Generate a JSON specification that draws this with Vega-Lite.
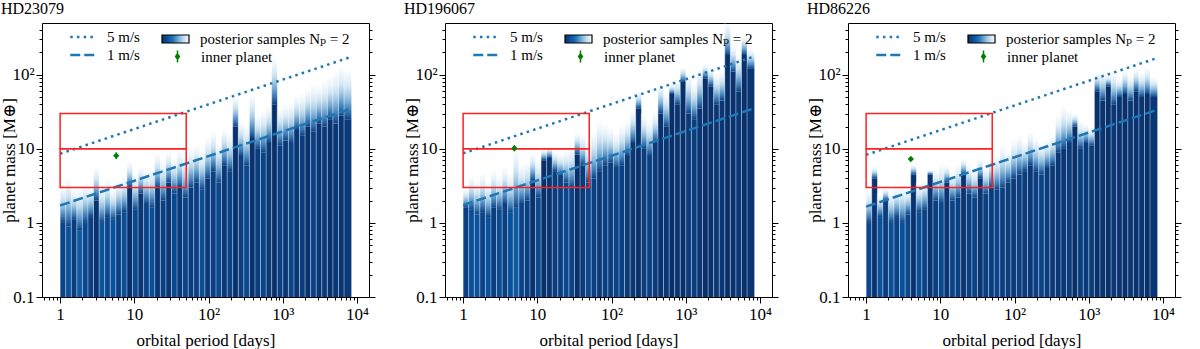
{
"$schema":"https://vega.github.io/schema/vega-lite/v6.json",
"background":"white",
"padding":{"left":0,"top":0,"right":0,"bottom":0},
"datasets":{
"bars":[
{"star":"HD23079","p0":1,"p1":1.189,"ms":1.0,"mt":3.5,"c":0.12},
{"star":"HD23079","p0":1.189,"p1":1.413,"ms":0.9,"mt":4.5,"c":0.2},
{"star":"HD23079","p0":1.413,"p1":1.679,"ms":1.1,"mt":3.0,"c":0.08},
{"star":"HD23079","p0":1.679,"p1":1.995,"ms":0.8,"mt":3.2,"c":0.25},
{"star":"HD23079","p0":1.995,"p1":2.371,"ms":1.0,"mt":3.8,"c":0.15},
{"star":"HD23079","p0":2.371,"p1":2.818,"ms":1.2,"mt":3.4,"c":0.1},
{"star":"HD23079","p0":2.818,"p1":3.35,"ms":2.0,"mt":6.0,"c":0.02},
{"star":"HD23079","p0":3.35,"p1":3.981,"ms":1.0,"mt":3.5,"c":0.22},
{"star":"HD23079","p0":3.981,"p1":4.732,"ms":1.2,"mt":4.2,"c":0.14},
{"star":"HD23079","p0":4.732,"p1":5.623,"ms":1.1,"mt":3.0,"c":0.2},
{"star":"HD23079","p0":5.623,"p1":6.683,"ms":1.3,"mt":4.0,"c":0.1},
{"star":"HD23079","p0":6.683,"p1":7.943,"ms":1.4,"mt":4.5,"c":0.18},
{"star":"HD23079","p0":7.943,"p1":9.441,"ms":3.0,"mt":7.0,"c":0.0},
{"star":"HD23079","p0":9.441,"p1":11.22,"ms":1.5,"mt":5.0,"c":0.15},
{"star":"HD23079","p0":11.22,"p1":13.34,"ms":2.5,"mt":6.0,"c":0.05},
{"star":"HD23079","p0":13.34,"p1":15.85,"ms":1.8,"mt":5.5,"c":0.12},
{"star":"HD23079","p0":15.85,"p1":18.84,"ms":1.6,"mt":6.0,"c":0.2},
{"star":"HD23079","p0":18.84,"p1":22.39,"ms":3.0,"mt":9.0,"c":0.03},
{"star":"HD23079","p0":22.39,"p1":26.61,"ms":2.0,"mt":7.5,"c":0.1},
{"star":"HD23079","p0":26.61,"p1":31.62,"ms":3.5,"mt":9.5,"c":0.04},
{"star":"HD23079","p0":31.62,"p1":37.58,"ms":2.5,"mt":8.0,"c":0.15},
{"star":"HD23079","p0":37.58,"p1":44.67,"ms":3.0,"mt":10,"c":0.06},
{"star":"HD23079","p0":44.67,"p1":53.09,"ms":2.2,"mt":8.5,"c":0.12},
{"star":"HD23079","p0":53.09,"p1":63.1,"ms":3.0,"mt":11,"c":0.08},
{"star":"HD23079","p0":63.1,"p1":74.99,"ms":3.5,"mt":12,"c":0.1},
{"star":"HD23079","p0":74.99,"p1":89.13,"ms":2.8,"mt":10,"c":0.18},
{"star":"HD23079","p0":89.13,"p1":105.9,"ms":4.0,"mt":15,"c":0.06},
{"star":"HD23079","p0":105.9,"p1":125.9,"ms":5.0,"mt":18,"c":0.1},
{"star":"HD23079","p0":125.9,"p1":149.6,"ms":3.5,"mt":13,"c":0.14},
{"star":"HD23079","p0":149.6,"p1":177.8,"ms":6.0,"mt":20,"c":0.05},
{"star":"HD23079","p0":177.8,"p1":211.3,"ms":5.0,"mt":17,"c":0.12},
{"star":"HD23079","p0":211.3,"p1":251.2,"ms":20,"mt":55,"c":0.0},
{"star":"HD23079","p0":251.2,"p1":298.5,"ms":8.0,"mt":25,"c":0.1},
{"star":"HD23079","p0":298.5,"p1":354.8,"ms":6.0,"mt":22,"c":0.14},
{"star":"HD23079","p0":354.8,"p1":421.7,"ms":14,"mt":60,"c":0.02},
{"star":"HD23079","p0":421.7,"p1":501.2,"ms":10,"mt":30,"c":0.08},
{"star":"HD23079","p0":501.2,"p1":595.7,"ms":9,"mt":35,"c":0.12},
{"star":"HD23079","p0":595.7,"p1":707.9,"ms":12,"mt":40,"c":0.06},
{"star":"HD23079","p0":707.9,"p1":841.4,"ms":40,"mt":185,"c":0.0},
{"star":"HD23079","p0":841.4,"p1":1000,"ms":11,"mt":38,"c":0.1},
{"star":"HD23079","p0":1000,"p1":1189,"ms":13,"mt":42,"c":0.05},
{"star":"HD23079","p0":1189,"p1":1413,"ms":12,"mt":45,"c":0.12},
{"star":"HD23079","p0":1413,"p1":1679,"ms":18,"mt":55,"c":0.04},
{"star":"HD23079","p0":1679,"p1":1995,"ms":15,"mt":60,"c":0.08},
{"star":"HD23079","p0":1995,"p1":2371,"ms":20,"mt":70,"c":0.02},
{"star":"HD23079","p0":2371,"p1":2818,"ms":17,"mt":80,"c":0.1},
{"star":"HD23079","p0":2818,"p1":3350,"ms":22,"mt":75,"c":0.04},
{"star":"HD23079","p0":3350,"p1":3981,"ms":20,"mt":90,"c":0.06},
{"star":"HD23079","p0":3981,"p1":4732,"ms":25,"mt":100,"c":0.02},
{"star":"HD23079","p0":4732,"p1":5623,"ms":22,"mt":120,"c":0.05},
{"star":"HD23079","p0":5623,"p1":6683,"ms":28,"mt":140,"c":0.03},
{"star":"HD23079","p0":6683,"p1":8400,"ms":25,"mt":130,"c":0.06},
{"star":"HD196067","p0":1,"p1":1.189,"ms":1.6,"mt":3.0,"c":0.1},
{"star":"HD196067","p0":1.189,"p1":1.413,"ms":1.5,"mt":4.5,"c":0.18},
{"star":"HD196067","p0":1.413,"p1":1.679,"ms":1.3,"mt":4.0,"c":0.22},
{"star":"HD196067","p0":1.679,"p1":1.995,"ms":1.4,"mt":5.0,"c":0.12},
{"star":"HD196067","p0":1.995,"p1":2.371,"ms":1.2,"mt":3.8,"c":0.2},
{"star":"HD196067","p0":2.371,"p1":2.818,"ms":1.6,"mt":5.5,"c":0.08},
{"star":"HD196067","p0":2.818,"p1":3.35,"ms":1.5,"mt":4.5,"c":0.16},
{"star":"HD196067","p0":3.35,"p1":3.981,"ms":1.8,"mt":6.0,"c":0.1},
{"star":"HD196067","p0":3.981,"p1":4.732,"ms":1.4,"mt":5.0,"c":0.2},
{"star":"HD196067","p0":4.732,"p1":5.623,"ms":1.6,"mt":11,"c":0.25},
{"star":"HD196067","p0":5.623,"p1":6.683,"ms":1.8,"mt":6.5,"c":0.12},
{"star":"HD196067","p0":6.683,"p1":7.943,"ms":2.0,"mt":7.0,"c":0.1},
{"star":"HD196067","p0":7.943,"p1":9.441,"ms":3.7,"mt":9.0,"c":0.02},
{"star":"HD196067","p0":9.441,"p1":11.22,"ms":2.2,"mt":7.5,"c":0.15},
{"star":"HD196067","p0":11.22,"p1":13.34,"ms":7.0,"mt":10,"c":0.0},
{"star":"HD196067","p0":13.34,"p1":15.85,"ms":7.5,"mt":11,"c":0.02},
{"star":"HD196067","p0":15.85,"p1":18.84,"ms":5.0,"mt":9.5,"c":0.08},
{"star":"HD196067","p0":18.84,"p1":22.39,"ms":4.3,"mt":8.8,"c":0.1},
{"star":"HD196067","p0":22.39,"p1":26.61,"ms":3.5,"mt":10,"c":0.14},
{"star":"HD196067","p0":26.61,"p1":31.62,"ms":3.0,"mt":12,"c":0.12},
{"star":"HD196067","p0":31.62,"p1":37.58,"ms":8.4,"mt":17,"c":0.0},
{"star":"HD196067","p0":37.58,"p1":44.67,"ms":6.0,"mt":16,"c":0.06},
{"star":"HD196067","p0":44.67,"p1":53.09,"ms":3.5,"mt":13,"c":0.14},
{"star":"HD196067","p0":53.09,"p1":63.1,"ms":4.0,"mt":18,"c":0.1},
{"star":"HD196067","p0":63.1,"p1":74.99,"ms":5.0,"mt":26,"c":0.06},
{"star":"HD196067","p0":74.99,"p1":89.13,"ms":6.0,"mt":23,"c":0.1},
{"star":"HD196067","p0":89.13,"p1":105.9,"ms":6.5,"mt":20,"c":0.08},
{"star":"HD196067","p0":105.9,"p1":125.9,"ms":5.5,"mt":17,"c":0.12},
{"star":"HD196067","p0":125.9,"p1":149.6,"ms":6.0,"mt":22,"c":0.1},
{"star":"HD196067","p0":149.6,"p1":177.8,"ms":8.0,"mt":25,"c":0.06},
{"star":"HD196067","p0":177.8,"p1":211.3,"ms":12,"mt":35,"c":0.05},
{"star":"HD196067","p0":211.3,"p1":251.2,"ms":35,"mt":60,"c":0.0},
{"star":"HD196067","p0":251.2,"p1":298.5,"ms":10,"mt":30,"c":0.08},
{"star":"HD196067","p0":298.5,"p1":354.8,"ms":8.0,"mt":25,"c":0.1},
{"star":"HD196067","p0":354.8,"p1":421.7,"ms":12,"mt":32,"c":0.06},
{"star":"HD196067","p0":421.7,"p1":501.2,"ms":30,"mt":80,"c":0.02},
{"star":"HD196067","p0":501.2,"p1":595.7,"ms":20,"mt":60,"c":0.04},
{"star":"HD196067","p0":595.7,"p1":707.9,"ms":55,"mt":75,"c":0.0},
{"star":"HD196067","p0":707.9,"p1":841.4,"ms":40,"mt":90,"c":0.03},
{"star":"HD196067","p0":841.4,"p1":1000,"ms":80,"mt":130,"c":0.0},
{"star":"HD196067","p0":1000,"p1":1189,"ms":30,"mt":110,"c":0.06},
{"star":"HD196067","p0":1189,"p1":1413,"ms":25,"mt":80,"c":0.08},
{"star":"HD196067","p0":1413,"p1":1679,"ms":35,"mt":130,"c":0.04},
{"star":"HD196067","p0":1679,"p1":1995,"ms":90,"mt":140,"c":0.0},
{"star":"HD196067","p0":1995,"p1":2371,"ms":70,"mt":125,"c":0.02},
{"star":"HD196067","p0":2371,"p1":2818,"ms":40,"mt":110,"c":0.05},
{"star":"HD196067","p0":2818,"p1":3350,"ms":45,"mt":120,"c":0.04},
{"star":"HD196067","p0":3350,"p1":3981,"ms":185,"mt":520,"c":0.0},
{"star":"HD196067","p0":3981,"p1":4732,"ms":110,"mt":260,"c":0.02},
{"star":"HD196067","p0":4732,"p1":5623,"ms":60,"mt":200,"c":0.04},
{"star":"HD196067","p0":5623,"p1":6683,"ms":185,"mt":350,"c":0.0},
{"star":"HD196067","p0":6683,"p1":8400,"ms":120,"mt":230,"c":0.03},
{"star":"HD86226","p0":1,"p1":1.189,"ms":1.0,"mt":3.0,"c":0.15},
{"star":"HD86226","p0":1.189,"p1":1.413,"ms":4.0,"mt":5.8,"c":0.02},
{"star":"HD86226","p0":1.413,"p1":1.679,"ms":1.2,"mt":2.5,"c":0.2},
{"star":"HD86226","p0":1.679,"p1":1.995,"ms":2.0,"mt":3.0,"c":0.08},
{"star":"HD86226","p0":1.995,"p1":2.371,"ms":1.0,"mt":2.8,"c":0.18},
{"star":"HD86226","p0":2.371,"p1":2.818,"ms":1.2,"mt":3.2,"c":0.12},
{"star":"HD86226","p0":2.818,"p1":3.35,"ms":1.0,"mt":3.5,"c":0.2},
{"star":"HD86226","p0":3.35,"p1":3.981,"ms":1.3,"mt":3.0,"c":0.14},
{"star":"HD86226","p0":3.981,"p1":4.732,"ms":4.5,"mt":6.2,"c":0.02},
{"star":"HD86226","p0":4.732,"p1":5.623,"ms":1.4,"mt":3.5,"c":0.18},
{"star":"HD86226","p0":5.623,"p1":6.683,"ms":1.5,"mt":4.0,"c":0.12},
{"star":"HD86226","p0":6.683,"p1":7.943,"ms":4.5,"mt":5.2,"c":0.03},
{"star":"HD86226","p0":7.943,"p1":9.441,"ms":2.0,"mt":5.5,"c":0.1},
{"star":"HD86226","p0":9.441,"p1":11.22,"ms":1.8,"mt":6.8,"c":0.14},
{"star":"HD86226","p0":11.22,"p1":13.34,"ms":3.5,"mt":6.0,"c":0.04},
{"star":"HD86226","p0":13.34,"p1":15.85,"ms":2.0,"mt":5.0,"c":0.12},
{"star":"HD86226","p0":15.85,"p1":18.84,"ms":2.2,"mt":6.5,"c":0.1},
{"star":"HD86226","p0":18.84,"p1":22.39,"ms":4.5,"mt":7.5,"c":0.03},
{"star":"HD86226","p0":22.39,"p1":26.61,"ms":2.5,"mt":6.5,"c":0.1},
{"star":"HD86226","p0":26.61,"p1":31.62,"ms":2.2,"mt":5.5,"c":0.12},
{"star":"HD86226","p0":31.62,"p1":37.58,"ms":4.0,"mt":7.5,"c":0.04},
{"star":"HD86226","p0":37.58,"p1":44.67,"ms":2.5,"mt":6.0,"c":0.1},
{"star":"HD86226","p0":44.67,"p1":53.09,"ms":3.0,"mt":8.0,"c":0.08},
{"star":"HD86226","p0":53.09,"p1":63.1,"ms":2.8,"mt":9.0,"c":0.12},
{"star":"HD86226","p0":63.1,"p1":74.99,"ms":3.0,"mt":12,"c":0.1},
{"star":"HD86226","p0":74.99,"p1":89.13,"ms":3.5,"mt":10,"c":0.08},
{"star":"HD86226","p0":89.13,"p1":105.9,"ms":4.0,"mt":14,"c":0.06},
{"star":"HD86226","p0":105.9,"p1":125.9,"ms":4.5,"mt":16,"c":0.1},
{"star":"HD86226","p0":125.9,"p1":149.6,"ms":5.0,"mt":13,"c":0.08},
{"star":"HD86226","p0":149.6,"p1":177.8,"ms":6.0,"mt":18,"c":0.05},
{"star":"HD86226","p0":177.8,"p1":211.3,"ms":5.0,"mt":15,"c":0.1},
{"star":"HD86226","p0":211.3,"p1":251.2,"ms":4.5,"mt":13,"c":0.12},
{"star":"HD86226","p0":251.2,"p1":298.5,"ms":5.5,"mt":14,"c":0.08},
{"star":"HD86226","p0":298.5,"p1":354.8,"ms":6.0,"mt":16,"c":0.06},
{"star":"HD86226","p0":354.8,"p1":421.7,"ms":9.0,"mt":30,"c":0.05},
{"star":"HD86226","p0":421.7,"p1":501.2,"ms":10,"mt":40,"c":0.04},
{"star":"HD86226","p0":501.2,"p1":595.7,"ms":12,"mt":35,"c":0.06},
{"star":"HD86226","p0":595.7,"p1":707.9,"ms":20,"mt":30,"c":0.0},
{"star":"HD86226","p0":707.9,"p1":841.4,"ms":10,"mt":25,"c":0.08},
{"star":"HD86226","p0":841.4,"p1":1000,"ms":12,"mt":22,"c":0.06},
{"star":"HD86226","p0":1000,"p1":1189,"ms":11,"mt":20,"c":0.08},
{"star":"HD86226","p0":1189,"p1":1413,"ms":60,"mt":110,"c":0.0},
{"star":"HD86226","p0":1413,"p1":1679,"ms":45,"mt":120,"c":0.03},
{"star":"HD86226","p0":1679,"p1":1995,"ms":70,"mt":100,"c":0.0},
{"star":"HD86226","p0":1995,"p1":2371,"ms":40,"mt":115,"c":0.04},
{"star":"HD86226","p0":2371,"p1":2818,"ms":50,"mt":90,"c":0.02},
{"star":"HD86226","p0":2818,"p1":3350,"ms":55,"mt":120,"c":0.0},
{"star":"HD86226","p0":3350,"p1":3981,"ms":45,"mt":100,"c":0.04},
{"star":"HD86226","p0":3981,"p1":4732,"ms":60,"mt":125,"c":0.02},
{"star":"HD86226","p0":4732,"p1":5623,"ms":50,"mt":110,"c":0.03},
{"star":"HD86226","p0":5623,"p1":6683,"ms":55,"mt":130,"c":0.01},
{"star":"HD86226","p0":6683,"p1":8400,"ms":50,"mt":95,"c":0.04}
],
"lines":[
{"star":"HD23079","vel":"5 m/s","p":1,"m":8.6},{"star":"HD23079","vel":"5 m/s","p":8000,"m":172},
{"star":"HD23079","vel":"1 m/s","p":1,"m":1.72},{"star":"HD23079","vel":"1 m/s","p":8000,"m":34.4},
{"star":"HD196067","vel":"5 m/s","p":1,"m":8.7},{"star":"HD196067","vel":"5 m/s","p":8000,"m":174},
{"star":"HD196067","vel":"1 m/s","p":1,"m":1.74},{"star":"HD196067","vel":"1 m/s","p":8000,"m":34.8},
{"star":"HD86226","vel":"5 m/s","p":1,"m":8.3},{"star":"HD86226","vel":"5 m/s","p":8000,"m":166},
{"star":"HD86226","vel":"1 m/s","p":1,"m":1.66},{"star":"HD86226","vel":"1 m/s","p":8000,"m":33.2}
],
"boxes":[
{"star":"HD23079","p0":1,"p1":50,"m0":3,"m1":10},{"star":"HD23079","p0":1,"p1":50,"m0":10,"m1":30},
{"star":"HD196067","p0":1,"p1":50,"m0":3,"m1":10},{"star":"HD196067","p0":1,"p1":50,"m0":10,"m1":30},
{"star":"HD86226","p0":1,"p1":50,"m0":3,"m1":10},{"star":"HD86226","p0":1,"p1":50,"m0":10,"m1":30}
],
"planets":[
{"star":"HD23079","obj":"inner planet","p":5.7,"m":8.1,"lo":7.3,"hi":8.9},
{"star":"HD196067","obj":"inner planet","p":4.9,"m":10.2,"lo":9.3,"hi":11.1},
{"star":"HD86226","obj":"inner planet","p":4.0,"m":7.3,"lo":7.0,"hi":7.6}
]
},
"spacing":27,
"hconcat":[
{
"title":{"text":"HD23079","font":"Liberation Serif, DejaVu Serif, serif","fontSize":16,"fontWeight":"normal","anchor":"start","offset":4},
"width":327,"height":274,
"layer":[
{"data":{"name":"bars"},"transform":[{"filter":"datum.star === 'HD23079'"}],
"mark":{"type":"rect","clip":true},
"encoding":{
"x":{"field":"p0","type":"quantitative","scale":{"type":"log","domain":[0.57,14500],"nice":false},
"axis":{"title":"orbital period [days]","values":[0.6,0.7,0.8,0.9,1,2,3,4,5,6,7,8,9,10,20,30,40,50,60,70,80,90,100,200,300,400,500,600,700,800,900,1000,2000,3000,4000,5000,6000,7000,8000,9000,10000],
"labelExpr":"datum.value === 1 ? '1' : datum.value === 10 ? '10' : datum.value === 100 ? '10²' : datum.value === 1000 ? '10³' : datum.value === 10000 ? '10⁴' : ''",
"tickSize":{"condition":{"test":"datum.value === 1 || datum.value === 10 || datum.value === 100 || datum.value === 1000 || datum.value === 10000","value":6},"value":3},
"labelPadding":3,"titlePadding":10}},
"x2":{"field":"p1"},
"y":{"field":"ms","type":"quantitative","scale":{"type":"log","domain":[0.1,500],"nice":false},
"axis":{"title":"planet mass [M⊕]","values":[0.1,0.2,0.3,0.4,0.5,0.6,0.7,0.8,0.9,1,2,3,4,5,6,7,8,9,10,20,30,40,50,60,70,80,90,100,200,300,400],
"labelExpr":"datum.value === 0.1 ? '0.1' : datum.value === 1 ? '1' : datum.value === 10 ? '10' : datum.value === 100 ? '10²' : ''",
"tickSize":{"condition":{"test":"datum.value === 0.1 || datum.value === 1 || datum.value === 10 || datum.value === 100","value":6},"value":3},
"labelPadding":2,"titlePadding":-7}},
"y2":{"datum":0.1},
"color":{"field":"c","type":"quantitative","scale":{"domain":[0,1],"range":["#08306b","#08519c","#2171b5","#6baed6","#c6dbef","#f7fbff"]},
"legend":{"orient":"none","legendX":120,"legendY":12,"direction":"horizontal","gradientLength":27,"gradientThickness":8,"gradientStrokeColor":"black","gradientStrokeWidth":1.2,"labelExpr":"''","title":"posterior samples Nₚ = 2","titleOrient":"right","titlePadding":10,"padding":0,"titleFontSize":15,"titleFontWeight":"normal"}}
}},
{"data":{"name":"bars"},"transform":[{"filter":"datum.star === 'HD23079'"}],
"mark":{"type":"rect","clip":true,"fill":{"gradient":"linear","x1":0,"y1":1,"x2":0,"y2":0,"stops":[{"offset":0,"color":"#0b4285"},{"offset":0.25,"color":"rgba(33,113,181,0.75)"},{"offset":0.6,"color":"rgba(107,174,214,0.32)"},{"offset":1,"color":"rgba(198,219,239,0)"}]}},
"encoding":{
"x":{"field":"p0","type":"quantitative"},
"x2":{"field":"p1"},
"y":{"field":"mt","type":"quantitative","axis":{"orient":"right","title":null,"labels":false,"values":[0.1,0.2,0.3,0.4,0.5,0.6,0.7,0.8,0.9,1,2,3,4,5,6,7,8,9,10,20,30,40,50,60,70,80,90,100,200,300,400],
"tickSize":{"condition":{"test":"datum.value === 0.1 || datum.value === 1 || datum.value === 10 || datum.value === 100","value":6},"value":3}}},
"y2":{"field":"ms"}
}},
{"data":{"name":"bars"},"transform":[{"filter":"datum.star === 'HD23079'"}],
"mark":{"type":"rule","color":"white","strokeWidth":0.8,"opacity":0.5,"clip":true},
"encoding":{
"x":{"field":"p0","type":"quantitative"},
"y":{"field":"mt","type":"quantitative","axis":null},"y2":{"datum":0.1}
}},
{"data":{"name":"lines"},"transform":[{"filter":"datum.star === 'HD23079'"}],
"mark":{"type":"line","color":"#1f77b4","strokeWidth":2.5},
"encoding":{
"x":{"field":"p","type":"quantitative"},
"y":{"field":"m","type":"quantitative","axis":null},
"strokeDash":{"field":"vel","type":"nominal","scale":{"domain":["5 m/s","1 m/s"],"range":[[2.5,4.2],[10,4]]},
"legend":{"orient":"none","legendX":27,"legendY":6,"title":null,"symbolType":"stroke","symbolSize":650,"symbolStrokeColor":"#1f77b4","symbolStrokeWidth":2.5,"labelOffset":10,"clipHeight":16,"rowPadding":2,"padding":0,"labelFontSize":15}}
}},
{"data":{"name":"boxes"},"transform":[{"filter":"datum.star === 'HD23079'"}],
"mark":{"type":"rect","filled":false,"stroke":"#ff2020","strokeWidth":1.5},
"encoding":{
"x":{"field":"p0","type":"quantitative"},"x2":{"field":"p1"},
"y":{"field":"m0","type":"quantitative","axis":null},"y2":{"field":"m1"}
}},
{"data":{"name":"planets"},"transform":[{"filter":"datum.star === 'HD23079'"}],
"mark":{"type":"rule","color":"green","strokeWidth":1.5},
"encoding":{
"x":{"field":"p","type":"quantitative"},
"y":{"field":"lo","type":"quantitative","axis":null},"y2":{"field":"hi"}
}},
{"data":{"name":"planets"},"transform":[{"filter":"datum.star === 'HD23079'"}],
"mark":{"type":"point","filled":true,"shape":"diamond","size":40,"opacity":1},
"encoding":{
"x":{"field":"p","type":"quantitative"},
"y":{"field":"m","type":"quantitative","axis":null},
"fill":{"field":"obj","type":"nominal","scale":{"domain":["inner planet"],"range":["green"]},
"legend":{"orient":"none","legendX":128,"legendY":26,"title":null,"symbolType":"M0,-1V1M0,-0.45L0.32,0L0,0.45L-0.32,0Z","symbolSize":140,"symbolStrokeColor":"green","symbolStrokeWidth":1.5,"labelOffset":16,"padding":0,"labelFontSize":15}}
}}
],
"resolve":{"axis":{"y":"independent"}}
},
{
"title":{"text":"HD196067","font":"Liberation Serif, DejaVu Serif, serif","fontSize":16,"fontWeight":"normal","anchor":"start","offset":4},
"width":327,"height":274,
"layer":[
{"data":{"name":"bars"},"transform":[{"filter":"datum.star === 'HD196067'"}],
"mark":{"type":"rect","clip":true},
"encoding":{
"x":{"field":"p0","type":"quantitative","scale":{"type":"log","domain":[0.57,14500],"nice":false},
"axis":{"title":"orbital period [days]","values":[0.6,0.7,0.8,0.9,1,2,3,4,5,6,7,8,9,10,20,30,40,50,60,70,80,90,100,200,300,400,500,600,700,800,900,1000,2000,3000,4000,5000,6000,7000,8000,9000,10000],
"labelExpr":"datum.value === 1 ? '1' : datum.value === 10 ? '10' : datum.value === 100 ? '10²' : datum.value === 1000 ? '10³' : datum.value === 10000 ? '10⁴' : ''",
"tickSize":{"condition":{"test":"datum.value === 1 || datum.value === 10 || datum.value === 100 || datum.value === 1000 || datum.value === 10000","value":6},"value":3},
"labelPadding":3,"titlePadding":10}},
"x2":{"field":"p1"},
"y":{"field":"ms","type":"quantitative","scale":{"type":"log","domain":[0.1,500],"nice":false},
"axis":{"title":"planet mass [M⊕]","values":[0.1,0.2,0.3,0.4,0.5,0.6,0.7,0.8,0.9,1,2,3,4,5,6,7,8,9,10,20,30,40,50,60,70,80,90,100,200,300,400],
"labelExpr":"datum.value === 0.1 ? '0.1' : datum.value === 1 ? '1' : datum.value === 10 ? '10' : datum.value === 100 ? '10²' : ''",
"tickSize":{"condition":{"test":"datum.value === 0.1 || datum.value === 1 || datum.value === 10 || datum.value === 100","value":6},"value":3},
"labelPadding":2,"titlePadding":-7}},
"y2":{"datum":0.1},
"color":{"field":"c","type":"quantitative","scale":{"domain":[0,1],"range":["#08306b","#08519c","#2171b5","#6baed6","#c6dbef","#f7fbff"]},
"legend":{"orient":"none","legendX":120,"legendY":12,"direction":"horizontal","gradientLength":27,"gradientThickness":8,"gradientStrokeColor":"black","gradientStrokeWidth":1.2,"labelExpr":"''","title":"posterior samples Nₚ = 2","titleOrient":"right","titlePadding":10,"padding":0,"titleFontSize":15,"titleFontWeight":"normal"}}
}},
{"data":{"name":"bars"},"transform":[{"filter":"datum.star === 'HD196067'"}],
"mark":{"type":"rect","clip":true,"fill":{"gradient":"linear","x1":0,"y1":1,"x2":0,"y2":0,"stops":[{"offset":0,"color":"#0b4285"},{"offset":0.25,"color":"rgba(33,113,181,0.75)"},{"offset":0.6,"color":"rgba(107,174,214,0.32)"},{"offset":1,"color":"rgba(198,219,239,0)"}]}},
"encoding":{
"x":{"field":"p0","type":"quantitative"},
"x2":{"field":"p1"},
"y":{"field":"mt","type":"quantitative","axis":{"orient":"right","title":null,"labels":false,"values":[0.1,0.2,0.3,0.4,0.5,0.6,0.7,0.8,0.9,1,2,3,4,5,6,7,8,9,10,20,30,40,50,60,70,80,90,100,200,300,400],
"tickSize":{"condition":{"test":"datum.value === 0.1 || datum.value === 1 || datum.value === 10 || datum.value === 100","value":6},"value":3}}},
"y2":{"field":"ms"}
}},
{"data":{"name":"bars"},"transform":[{"filter":"datum.star === 'HD196067'"}],
"mark":{"type":"rule","color":"white","strokeWidth":0.8,"opacity":0.5,"clip":true},
"encoding":{
"x":{"field":"p0","type":"quantitative"},
"y":{"field":"mt","type":"quantitative","axis":null},"y2":{"datum":0.1}
}},
{"data":{"name":"lines"},"transform":[{"filter":"datum.star === 'HD196067'"}],
"mark":{"type":"line","color":"#1f77b4","strokeWidth":2.5},
"encoding":{
"x":{"field":"p","type":"quantitative"},
"y":{"field":"m","type":"quantitative","axis":null},
"strokeDash":{"field":"vel","type":"nominal","scale":{"domain":["5 m/s","1 m/s"],"range":[[2.5,4.2],[10,4]]},
"legend":{"orient":"none","legendX":27,"legendY":6,"title":null,"symbolType":"stroke","symbolSize":650,"symbolStrokeColor":"#1f77b4","symbolStrokeWidth":2.5,"labelOffset":10,"clipHeight":16,"rowPadding":2,"padding":0,"labelFontSize":15}}
}},
{"data":{"name":"boxes"},"transform":[{"filter":"datum.star === 'HD196067'"}],
"mark":{"type":"rect","filled":false,"stroke":"#ff2020","strokeWidth":1.5},
"encoding":{
"x":{"field":"p0","type":"quantitative"},"x2":{"field":"p1"},
"y":{"field":"m0","type":"quantitative","axis":null},"y2":{"field":"m1"}
}},
{"data":{"name":"planets"},"transform":[{"filter":"datum.star === 'HD196067'"}],
"mark":{"type":"rule","color":"green","strokeWidth":1.5},
"encoding":{
"x":{"field":"p","type":"quantitative"},
"y":{"field":"lo","type":"quantitative","axis":null},"y2":{"field":"hi"}
}},
{"data":{"name":"planets"},"transform":[{"filter":"datum.star === 'HD196067'"}],
"mark":{"type":"point","filled":true,"shape":"diamond","size":40,"opacity":1},
"encoding":{
"x":{"field":"p","type":"quantitative"},
"y":{"field":"m","type":"quantitative","axis":null},
"fill":{"field":"obj","type":"nominal","scale":{"domain":["inner planet"],"range":["green"]},
"legend":{"orient":"none","legendX":128,"legendY":26,"title":null,"symbolType":"M0,-1V1M0,-0.45L0.32,0L0,0.45L-0.32,0Z","symbolSize":140,"symbolStrokeColor":"green","symbolStrokeWidth":1.5,"labelOffset":16,"padding":0,"labelFontSize":15}}
}}
],
"resolve":{"axis":{"y":"independent"}}
},
{
"title":{"text":"HD86226","font":"Liberation Serif, DejaVu Serif, serif","fontSize":16,"fontWeight":"normal","anchor":"start","offset":4},
"width":327,"height":274,
"layer":[
{"data":{"name":"bars"},"transform":[{"filter":"datum.star === 'HD86226'"}],
"mark":{"type":"rect","clip":true},
"encoding":{
"x":{"field":"p0","type":"quantitative","scale":{"type":"log","domain":[0.57,14500],"nice":false},
"axis":{"title":"orbital period [days]","values":[0.6,0.7,0.8,0.9,1,2,3,4,5,6,7,8,9,10,20,30,40,50,60,70,80,90,100,200,300,400,500,600,700,800,900,1000,2000,3000,4000,5000,6000,7000,8000,9000,10000],
"labelExpr":"datum.value === 1 ? '1' : datum.value === 10 ? '10' : datum.value === 100 ? '10²' : datum.value === 1000 ? '10³' : datum.value === 10000 ? '10⁴' : ''",
"tickSize":{"condition":{"test":"datum.value === 1 || datum.value === 10 || datum.value === 100 || datum.value === 1000 || datum.value === 10000","value":6},"value":3},
"labelPadding":3,"titlePadding":10}},
"x2":{"field":"p1"},
"y":{"field":"ms","type":"quantitative","scale":{"type":"log","domain":[0.1,500],"nice":false},
"axis":{"title":"planet mass [M⊕]","values":[0.1,0.2,0.3,0.4,0.5,0.6,0.7,0.8,0.9,1,2,3,4,5,6,7,8,9,10,20,30,40,50,60,70,80,90,100,200,300,400],
"labelExpr":"datum.value === 0.1 ? '0.1' : datum.value === 1 ? '1' : datum.value === 10 ? '10' : datum.value === 100 ? '10²' : ''",
"tickSize":{"condition":{"test":"datum.value === 0.1 || datum.value === 1 || datum.value === 10 || datum.value === 100","value":6},"value":3},
"labelPadding":2,"titlePadding":-7}},
"y2":{"datum":0.1},
"color":{"field":"c","type":"quantitative","scale":{"domain":[0,1],"range":["#08306b","#08519c","#2171b5","#6baed6","#c6dbef","#f7fbff"]},
"legend":{"orient":"none","legendX":120,"legendY":12,"direction":"horizontal","gradientLength":27,"gradientThickness":8,"gradientStrokeColor":"black","gradientStrokeWidth":1.2,"labelExpr":"''","title":"posterior samples Nₚ = 2","titleOrient":"right","titlePadding":10,"padding":0,"titleFontSize":15,"titleFontWeight":"normal"}}
}},
{"data":{"name":"bars"},"transform":[{"filter":"datum.star === 'HD86226'"}],
"mark":{"type":"rect","clip":true,"fill":{"gradient":"linear","x1":0,"y1":1,"x2":0,"y2":0,"stops":[{"offset":0,"color":"#0b4285"},{"offset":0.25,"color":"rgba(33,113,181,0.75)"},{"offset":0.6,"color":"rgba(107,174,214,0.32)"},{"offset":1,"color":"rgba(198,219,239,0)"}]}},
"encoding":{
"x":{"field":"p0","type":"quantitative"},
"x2":{"field":"p1"},
"y":{"field":"mt","type":"quantitative","axis":{"orient":"right","title":null,"labels":false,"values":[0.1,0.2,0.3,0.4,0.5,0.6,0.7,0.8,0.9,1,2,3,4,5,6,7,8,9,10,20,30,40,50,60,70,80,90,100,200,300,400],
"tickSize":{"condition":{"test":"datum.value === 0.1 || datum.value === 1 || datum.value === 10 || datum.value === 100","value":6},"value":3}}},
"y2":{"field":"ms"}
}},
{"data":{"name":"bars"},"transform":[{"filter":"datum.star === 'HD86226'"}],
"mark":{"type":"rule","color":"white","strokeWidth":0.8,"opacity":0.5,"clip":true},
"encoding":{
"x":{"field":"p0","type":"quantitative"},
"y":{"field":"mt","type":"quantitative","axis":null},"y2":{"datum":0.1}
}},
{"data":{"name":"lines"},"transform":[{"filter":"datum.star === 'HD86226'"}],
"mark":{"type":"line","color":"#1f77b4","strokeWidth":2.5},
"encoding":{
"x":{"field":"p","type":"quantitative"},
"y":{"field":"m","type":"quantitative","axis":null},
"strokeDash":{"field":"vel","type":"nominal","scale":{"domain":["5 m/s","1 m/s"],"range":[[2.5,4.2],[10,4]]},
"legend":{"orient":"none","legendX":27,"legendY":6,"title":null,"symbolType":"stroke","symbolSize":650,"symbolStrokeColor":"#1f77b4","symbolStrokeWidth":2.5,"labelOffset":10,"clipHeight":16,"rowPadding":2,"padding":0,"labelFontSize":15}}
}},
{"data":{"name":"boxes"},"transform":[{"filter":"datum.star === 'HD86226'"}],
"mark":{"type":"rect","filled":false,"stroke":"#ff2020","strokeWidth":1.5},
"encoding":{
"x":{"field":"p0","type":"quantitative"},"x2":{"field":"p1"},
"y":{"field":"m0","type":"quantitative","axis":null},"y2":{"field":"m1"}
}},
{"data":{"name":"planets"},"transform":[{"filter":"datum.star === 'HD86226'"}],
"mark":{"type":"rule","color":"green","strokeWidth":1.5},
"encoding":{
"x":{"field":"p","type":"quantitative"},
"y":{"field":"lo","type":"quantitative","axis":null},"y2":{"field":"hi"}
}},
{"data":{"name":"planets"},"transform":[{"filter":"datum.star === 'HD86226'"}],
"mark":{"type":"point","filled":true,"shape":"diamond","size":40,"opacity":1},
"encoding":{
"x":{"field":"p","type":"quantitative"},
"y":{"field":"m","type":"quantitative","axis":null},
"fill":{"field":"obj","type":"nominal","scale":{"domain":["inner planet"],"range":["green"]},
"legend":{"orient":"none","legendX":128,"legendY":26,"title":null,"symbolType":"M0,-1V1M0,-0.45L0.32,0L0,0.45L-0.32,0Z","symbolSize":140,"symbolStrokeColor":"green","symbolStrokeWidth":1.5,"labelOffset":16,"padding":0,"labelFontSize":15}}
}}
],
"resolve":{"axis":{"y":"independent"}}
}
],
"resolve":{"scale":{"color":"independent","strokeDash":"independent","fill":"independent"},"legend":{"color":"independent","strokeDash":"independent","fill":"independent"}},
"config":{
"font":"Liberation Serif, DejaVu Serif, serif",
"view":{"stroke":"black","strokeWidth":1},
"axis":{"grid":false,"domain":false,"tickColor":"black","labelColor":"black","titleColor":"black","labelFontSize":17,"titleFontSize":17,"titleFontWeight":"normal","labelFont":"Liberation Serif, DejaVu Serif, serif","titleFont":"Liberation Serif, DejaVu Serif, serif","tickWidth":1,"labelOverlap":false,"labelFlush":false},
"title":{"font":"Liberation Serif, DejaVu Serif, serif","fontSize":16,"fontWeight":"normal","anchor":"start","color":"black"},
"legend":{"labelFont":"Liberation Serif, DejaVu Serif, serif","titleFont":"Liberation Serif, DejaVu Serif, serif","labelFontSize":15,"titleFontSize":15,"titleFontWeight":"normal","labelColor":"black","titleColor":"black"}
}
}
